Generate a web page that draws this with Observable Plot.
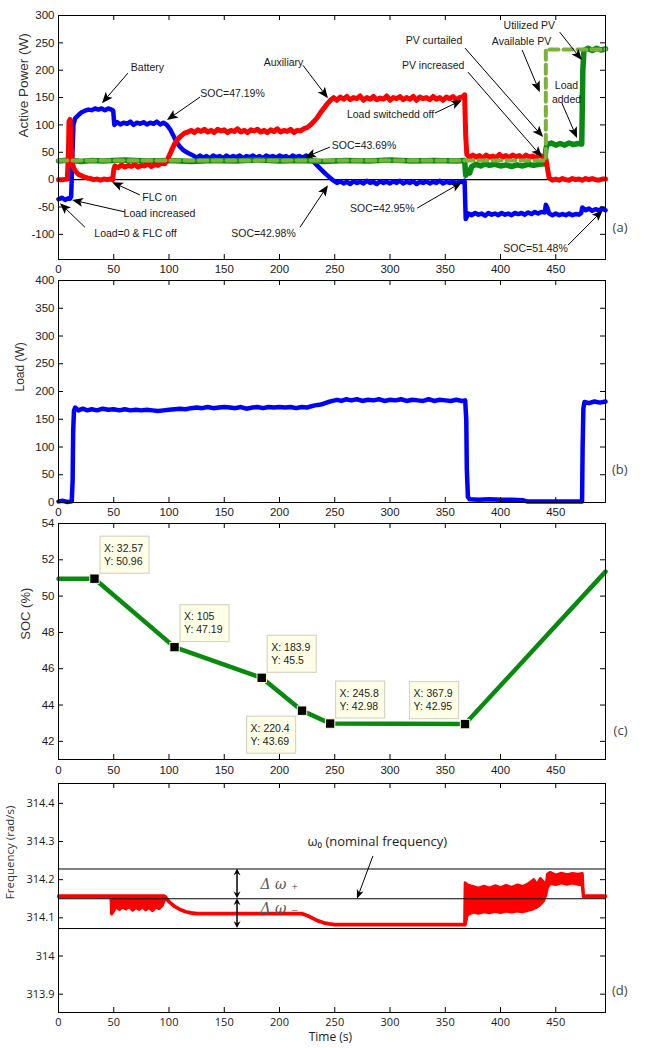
<!DOCTYPE html>
<html><head><meta charset="utf-8">
<script src="https://cdn.jsdelivr.net/npm/d3@7"></script>
<script src="https://cdn.jsdelivr.net/npm/@observablehq/plot@0.6"></script>
<style>
body{margin:0;background:#fff;}
#root{position:relative;width:646px;height:1048px;overflow:hidden;background:#fff;}
#root svg{position:absolute;left:0;}
</style></head><body><div id="root"></div>
<script>
// ---------- shared ticks ----------
const timeTicks = [0,50,100,150,200,250,300,350,400,450];
const powerTicks = [-100,-50,0,50,100,150,200,250,300];
const loadTicks = [0,50,100,150,200,250,300,350,400];
const socTicks = [42,44,46,48,50,52,54];
const freqTicks = [313.9,314,314.1,314.2,314.3,314.4];

// ---------- panel (a): active power [t, W] ----------
const batteryPts = [[0,-36],[3,-33],[6,-37],[9,-34],[10.5,-35],[11.5,-30],[12.5,40],[13.5,100],[15,112],[18,118],[21,123],[24,126],[27,128],[30,127],[33,130],[36,128],[39,130],[42,127],[45,130],[48,128],[49.5,126],[50.5,100],[53,105],[56,101],[59,104],[62,102],[65,106],[68,100],[71,104],[74,102],[77,105],[80,101],[83,104],[86,102],[89,106],[92,101],[95,104],[98,100],[101,92],[104,80],[107,68],[110,60],[113,54],[116,50],[119,47],[122,44],[125,40],[128,44],[131,40],[134,43],[137,39],[140,44],[143,41],[146,43],[149,39],[152,44],[155,40],[158,43],[161,41],[164,44],[167,39],[170,43],[173,41],[176,44],[179,40],[182,43],[185,39],[188,44],[191,41],[194,43],[197,40],[200,44],[203,41],[206,43],[209,39],[212,44],[215,41],[218,43],[221,40],[224,44],[227,41],[230,34],[234,26],[238,18],[242,10],[246,3],[249,-2],[252,-6],[255,-3],[258,-7],[261,-4],[264,-8],[267,-3],[270,-6],[273,-4],[276,-7],[279,-2],[282,-6],[285,-4],[288,-8],[291,-3],[294,-6],[297,-4],[300,-7],[303,-3],[306,-6],[309,-2],[312,-7],[315,-4],[318,-6],[321,-3],[324,-8],[327,-4],[330,-6],[333,-3],[336,-7],[339,-4],[342,-6],[345,-2],[348,-7],[351,-4],[354,-6],[357,-3],[360,-7],[363,-3],[366,-5],[367.5,-2],[368.5,-72],[371,-62],[374,-65],[377,-61],[380,-64],[383,-62],[386,-66],[389,-61],[392,-64],[395,-62],[398,-65],[401,-61],[404,-64],[407,-62],[410,-65],[413,-61],[416,-63],[419,-61],[422,-64],[425,-60],[428,-63],[431,-59],[434,-62],[437,-59],[440,-60],[441,-46],[442.5,-52],[444,-62],[447,-65],[450,-62],[453,-65],[456,-63],[459,-65],[462,-62],[465,-65],[468,-63],[471,-64],[473,-61],[474,-51],[477,-56],[480,-53],[483,-57],[486,-54],[489,-56],[492,-53],[495,-56]];
const auxiliaryPts = [[0,0],[4,0],[8,1],[9,50],[9.5,106],[10.5,110],[11.5,60],[12.5,30],[14,20],[16,14],[18,10],[20,8],[23,5],[26,3],[29,2],[32,0],[35,1],[38,-1],[41,1],[44,0],[47,1],[49,0],[50,18],[51,25],[54,22],[57,27],[60,23],[63,26],[66,24],[69,28],[72,23],[75,26],[78,25],[81,29],[84,24],[87,27],[90,26],[93,30],[96,29],[99,38],[102,52],[105,65],[108,74],[111,80],[114,85],[117,87],[120,90],[123,86],[126,91],[129,88],[132,92],[135,87],[138,90],[141,86],[144,92],[147,89],[150,91],[153,86],[156,90],[159,88],[162,93],[165,87],[168,90],[171,86],[174,91],[177,89],[180,92],[183,87],[186,90],[189,86],[192,91],[195,88],[198,93],[201,87],[204,90],[207,88],[210,92],[213,86],[216,90],[219,89],[222,93],[225,95],[228,100],[231,106],[234,113],[237,122],[240,130],[243,138],[246,145],[249,150],[252,145],[255,151],[258,147],[261,152],[264,146],[267,150],[270,148],[273,153],[276,145],[279,150],[282,147],[285,152],[288,146],[291,149],[294,147],[297,153],[300,145],[303,150],[306,148],[309,152],[312,146],[315,150],[318,147],[321,152],[324,145],[327,151],[330,148],[333,150],[336,146],[339,152],[342,147],[345,150],[348,145],[351,151],[354,148],[357,152],[360,146],[363,150],[366,151],[367.5,155],[368.5,80],[369.5,46],[372,40],[375,45],[378,41],[381,44],[384,39],[387,45],[390,41],[393,43],[396,40],[399,46],[402,41],[405,44],[408,40],[411,45],[414,42],[417,44],[420,39],[423,45],[426,41],[429,43],[432,40],[435,45],[438,42],[441,39],[442.5,20],[444,3],[447,-1],[450,1],[453,-1],[456,2],[459,0],[462,-1],[465,2],[468,0],[471,1],[474,-1],[477,2],[480,0],[483,2],[486,0],[489,-1],[492,1],[495,1]];
const utilizedPvPts = [[0,34],[10,36],[20,33],[30,35],[40,34],[60,36],[80,34],[100,35],[120,33],[140,35],[160,34],[180,36],[200,34],[220,35],[240,33],[260,35],[280,34],[300,36],[320,34],[340,35],[360,34],[367.5,35],[368.5,8],[370,18],[372,12],[374,24],[378,28],[382,25],[386,29],[390,26],[395,28],[400,25],[405,27],[410,24],[415,27],[420,25],[425,28],[430,26],[435,28],[440,29],[441,55],[442,64],[446,67],[450,63],[454,66],[458,63],[462,67],[466,64],[470,66],[473.5,65],[474.5,200],[475.5,236],[479,240],[483,236],[487,240],[491,237],[495,239]];
const availablePvPts = [[0,35],[441,35],[441,238],[495,238]];

const powerNotes = [
  {t:80.5,v:204.8,s:"Battery"},{t:157.5,v:157,s:"SOC=47.19%"},{t:203.6,v:214,s:"Auxiliary"},
  {t:91.4,v:-33,s:"FLC on"},{t:91.4,v:-62,s:"Load increased"},{t:69.7,v:-99,s:"Load=0 & FLC off"},
  {t:185.5,v:-99,s:"SOC=42.98%"},{t:276.5,v:62,s:"SOC=43.69%"},{t:300.5,v:119,s:"Load switchedd off"},
  {t:293,v:-53,s:"SOC=42.95%"},{t:431.7,v:-126,s:"SOC=51.48%"},{t:339.8,v:254,s:"PV curtailed"},
  {t:339,v:208,s:"PV increased"},{t:419,v:252,s:"Available PV"},{t:426,v:281.5,s:"Utilized PV"},
  {t:459.7,v:171.8,s:"Load"},{t:459.7,v:146,s:"added"}
];
const powerArrows = [
  {t1:63.3,v1:193.8,t2:39.8,v2:138.9},{t1:128.5,v1:150,t2:98.6,v2:108},{t1:221.7,v1:208,t2:244.3,v2:148},
  {t1:74.2,v1:-29,t2:48.9,v2:-5.5},{t1:60.6,v1:-60,t2:12.7,v2:-38},{t1:24.4,v1:-88,t2:1.8,v2:-44},
  {t1:219,v1:-88,t2:244.3,v2:-11},{t1:246,v1:58.5,t2:223.5,v2:40},{t1:341,v1:120.7,t2:365.6,v2:144.4},
  {t1:325,v1:-53,t2:365.6,v2:-5.5},{t1:461.5,v1:-120.7,t2:493,v2:-56.7},{t1:368.3,v1:239.5,t2:439,v2:76.8},
  {t1:371,v1:195.6,t2:438,v2:40.2},{t1:420,v1:236,t2:436,v2:159},{t1:454,v1:268.7,t2:474,v2:217.6},
  {t1:456,v1:139,t2:469.7,v2:75}
];

// ---------- panel (b): load [t, W] ----------
const loadPts = [[0,2],[4,3],[8,1],[12,2],[12.8,40],[13.3,130],[14,165],[15,171],[18,166],[22,169],[26,166],[30,168],[35,166],[40,169],[45,167],[50,168],[55,166],[60,168],[65,166],[70,167],[75,166],[80,167],[85,166],[90,165],[95,166],[100,167],[105,168],[110,169],[115,168],[120,170],[125,171],[130,170],[135,172],[140,170],[145,171],[150,172],[155,171],[160,170],[165,172],[170,169],[175,171],[180,172],[185,170],[190,172],[195,171],[200,172],[205,171],[210,172],[215,170],[220,172],[225,171],[228,173],[232,175],[236,176],[240,178],[244,181],[248,183],[252,185],[256,183],[260,186],[265,184],[270,186],[275,183],[280,185],[285,184],[290,186],[295,183],[300,185],[305,184],[310,186],[315,183],[320,185],[325,184],[330,183],[335,186],[340,183],[345,185],[350,184],[355,183],[360,185],[365,183],[368,184],[369,150],[369.5,60],[370.5,10],[372,6],[380,5],[390,6],[400,5],[410,5],[420,4],[424,2],[430,2],[440,2],[450,2],[460,2],[470,2],[473.8,2],[474.3,100],[475,170],[476,181],[480,179],[485,182],[490,180],[495,182]];

// ---------- panel (c): SOC [t, %] ----------
const socPts = [[0,50.96],[32.57,50.96],[105,47.19],[183.9,45.5],[220.4,43.69],[245.8,42.98],[367.9,42.95],[495,51.35]];
const socTips = [
  {t:32.57,v:50.96,pos:"ur"},{t:105,v:47.19,pos:"ur"},{t:183.9,v:45.5,pos:"ur"},
  {t:220.4,v:43.69,pos:"dl"},{t:245.8,v:42.98,pos:"ur"},{t:367.9,v:42.95,pos:"ul"}
];

// ---------- panel (d): frequency [t, low, high] ----------
const freqPts = [[0,314.155,314.158],[47.5,314.155,314.158],[48,314.11,314.158],[50,314.118,314.158],[52,314.13,314.158],[55,314.122,314.158],[58,314.128,314.158],[61,314.123,314.158],[64,314.13,314.158],[67,314.12,314.158],[70,314.127,314.158],[73,314.122,314.158],[76,314.129,314.158],[79,314.121,314.158],[82,314.127,314.158],[85,314.119,314.158],[88,314.128,314.158],[91,314.124,314.158],[94,314.133,314.158],[96,314.148,314.158],[97,314.151,314.155],[100,314.141,314.143],[105,314.129,314.131],[110,314.121,314.123],[115,314.115,314.117],[120,314.112,314.114],[125,314.11,314.112],[220,314.11,314.112],[225,314.105,314.107],[230,314.098,314.1],[235,314.091,314.093],[240,314.086,314.088],[245,314.083,314.085],[250,314.081,314.083],[367.5,314.081,314.083],[368,314.081,314.192],[370,314.108,314.186],[375,314.115,314.182],[380,314.112,314.178],[385,314.116,314.183],[390,314.113,314.178],[395,314.117,314.184],[400,314.114,314.179],[405,314.118,314.185],[410,314.115,314.18],[415,314.118,314.186],[420,314.116,314.182],[425,314.12,314.189],[430,314.124,314.2],[433,314.128,314.187],[436,314.135,314.203],[439,314.145,314.194],[441,314.16,314.178],[442.5,314.18,314.215],[445,314.19,314.219],[450,314.187,314.212],[455,314.192,314.217],[460,314.188,314.213],[465,314.191,314.216],[470,314.188,314.214],[474,314.186,314.216],[475,314.155,314.158],[495,314.155,314.158]];
const omegaLines = [314.228, 314.15, 314.072];
const omegaArrows = [{t1:162,v1:314.15,t2:162,v2:314.228},{t1:162,v1:314.15,t2:162,v2:314.072}];
const nominalArrow = [{t1:285,v1:314.261,t2:270.6,v2:314.149}];

// ---------- helpers ----------
const root = document.getElementById("root");
const ARIAL = "'Liberation Sans', Arial, sans-serif";
const SOFT = "'Open Sans', 'Noto Sans', sans-serif";
const toRows = pts => pts.map(([t, v]) => ({t, v}));

function arrowsMark(list, {head = 10, half = 4, both = false, width = 1} = {}) {
  return (index, scales) => {
    const g = d3.create("svg:g");
    const headPath = (tx, ty, ux, uy) => {
      const nx = -uy, ny = ux;
      return `M${tx},${ty}L${tx - head*ux + half*nx},${ty - head*uy + half*ny}L${tx - (head-2.5)*ux},${ty - (head-2.5)*uy}L${tx - head*ux - half*nx},${ty - head*uy - half*ny}Z`;
    };
    for (const a of list) {
      const x1 = scales.x(a.t1), y1 = scales.y(a.v1), x2 = scales.x(a.t2), y2 = scales.y(a.v2);
      const dx = x2 - x1, dy = y2 - y1, len = Math.hypot(dx, dy), ux = dx/len, uy = dy/len;
      const sx = both ? x1 + (head-3)*ux : x1, sy = both ? y1 + (head-3)*uy : y1;
      g.append("line").attr("x1", sx).attr("y1", sy)
        .attr("x2", x2 - (head-3)*ux).attr("y2", y2 - (head-3)*uy)
        .attr("stroke", "#000").attr("stroke-width", width);
      g.append("path").attr("d", headPath(x2, y2, ux, uy)).attr("fill", "#000");
      if (both) g.append("path").attr("d", headPath(x1, y1, -ux, -uy)).attr("fill", "#000");
    }
    return g.node();
  };
}

function tipsMark(list) {
  return (index, scales) => {
    const g = d3.create("svg:g");
    const w = 49, h = 37;
    for (const p of list) {
      const px = scales.x(p.t), py = scales.y(p.v);
      const left = p.pos.endsWith("r") ? px + 6 : px - 6 - w;
      const top = p.pos.startsWith("u") ? py - 5 - h : py + 6;
      g.append("rect").attr("x", left).attr("y", top).attr("width", w).attr("height", h)
        .attr("fill", "#ffffe8").attr("stroke", "#d6d6c4").attr("stroke-width", 1.2);
      const lines = ["X: " + p.t, "Y: " + p.v];
      lines.forEach((s, i) => {
        g.append("text").attr("x", left + 4).attr("y", top + 12 + i*13).attr("dy", "0.35em")
          .attr("text-anchor", "start").attr("font-size", 10.5).attr("fill", "#222")
          .attr("font-family", ARIAL).text(s);
      });
    }
    return g.node();
  };
}

function panel(cfg) {
  const innerW = 646 - 58 - 41;
  const innerH = cfg.height - cfg.mt - cfg.mb;
  const svg = Plot.plot({
    width: 646, height: cfg.height,
    marginTop: cfg.mt, marginBottom: cfg.mb, marginLeft: 58, marginRight: 41,
    x: {domain: [0, 495]},
    y: {domain: cfg.yDomain},
    style: {background: "transparent", fontFamily: cfg.font, fontSize: cfg.fontSize + "px", color: "#1a1a1a", overflow: "visible"},
    marks: [
      ...cfg.marks,
      Plot.ruleX(timeTicks, {insetTop: innerH - 5, stroke: "#000"}),
      Plot.ruleX(timeTicks, {insetBottom: innerH - 5, stroke: "#000"}),
      Plot.ruleY(cfg.yTicks, {insetRight: innerW - 5, stroke: "#000"}),
      Plot.ruleY(cfg.yTicks, {insetLeft: innerW - 5, stroke: "#000"}),
      Plot.frame({stroke: "#000", strokeWidth: 1}),
      Plot.axisX({ticks: timeTicks, tickSize: 0, tickPadding: cfg.xPad, label: null, tickFormat: d => String(d)}),
      Plot.axisY({ticks: cfg.yTicks, tickSize: 0, tickPadding: 4, label: null, tickFormat: d => String(d)}),
      Plot.text([cfg.letter], {frameAnchor: "right", dx: 22, y: cfg.letterY, text: d => d, fontFamily: SOFT, fontSize: 13, fill: "#444"}),
      Plot.text([cfg.ylabel], {frameAnchor: "left", dx: cfg.ylabelDx, y: cfg.ylabelY, text: d => d, rotate: -90, fontFamily: cfg.ylabelFont, fontSize: cfg.ylabelSize, fill: "#333"}),
      ...(cfg.extra || [])
    ]
  });
  svg.style.top = cfg.top + "px";
  root.appendChild(svg);
}

// ---------- (a) ----------
panel({
  top: 0, height: 286, mt: 15, mb: 27, yDomain: [-146, 300], yTicks: powerTicks,
  font: ARIAL, fontSize: 11.5, xPad: 5, letter: "(a)", letterY: -88,
  ylabel: "Active Power (W)", ylabelDx: -35, ylabelY: 77, ylabelFont: ARIAL, ylabelSize: 13.5,
  marks: [
    Plot.ruleY([0], {stroke: "#000", strokeWidth: 1.2}),
    Plot.line(toRows(batteryPts), {x: "t", y: "v", stroke: "#0000ff", strokeWidth: 4.5}),
    Plot.line(toRows(utilizedPvPts), {x: "t", y: "v", stroke: "#0a8a14", strokeWidth: 5.5}),
    Plot.line(toRows(auxiliaryPts), {x: "t", y: "v", stroke: "#ff0000", strokeWidth: 5}),
    Plot.line(toRows(availablePvPts), {x: "t", y: "v", stroke: "#7ab23a", strokeWidth: 4, strokeDasharray: "9,5"}),
    arrowsMark(powerArrows, {head: 11, half: 4.5}),
    Plot.text(powerNotes, {x: "t", y: "v", text: "s", fontSize: 10.5, fill: "#1a1a1a", fontFamily: ARIAL})
  ]
});

// ---------- (b) ----------
panel({
  top: 265, height: 257, mt: 15, mb: 20, yDomain: [0, 400], yTicks: loadTicks,
  font: ARIAL, fontSize: 11.5, xPad: 5, letter: "(b)", letterY: 59.5,
  ylabel: "Load (W)", ylabelDx: -38, ylabelY: 200, ylabelFont: ARIAL, ylabelSize: 12,
  marks: [
    Plot.line(toRows(loadPts), {x: "t", y: "v", stroke: "#0000ff", strokeWidth: 4.5})
  ]
});

// ---------- (c) ----------
panel({
  top: 508, height: 273, mt: 15, mb: 22, yDomain: [41, 54], yTicks: socTicks,
  font: ARIAL, fontSize: 11.5, xPad: 6, letter: "(c)", letterY: 42.6,
  ylabel: "SOC (%)", ylabelDx: -33, ylabelY: 47.6, ylabelFont: ARIAL, ylabelSize: 13,
  marks: [
    Plot.line(toRows(socPts), {x: "t", y: "v", stroke: "#078a0e", strokeWidth: 4.5}),
    tipsMark(socTips),
    Plot.dot(socTips, {x: "t", y: "v", symbol: "square", r: 5.3, fill: "#000", stroke: "#fffbd0", strokeWidth: 1})
  ]
});

// ---------- (d) ----------
const freqRows = freqPts.map(([t, lo, hi]) => ({t, lo, hi}));
panel({
  top: 768, height: 280, mt: 15, mb: 36, yDomain: [313.852, 314.452], yTicks: freqTicks,
  font: SOFT, fontSize: 11, xPad: 6, letter: "(d)", letterY: 313.908,
  ylabel: "Frequency (rad/s)", ylabelDx: -48, ylabelY: 314.149, ylabelFont: SOFT, ylabelSize: 11.5,
  marks: [
    Plot.areaY(freqRows, {x: "t", y1: "lo", y2: "hi", fill: "#ff0000"}),
    Plot.line(freqRows, {x: "t", y: "lo", stroke: "#ff0000", strokeWidth: 3}),
    Plot.line(freqRows, {x: "t", y: "hi", stroke: "#ff0000", strokeWidth: 3}),
    Plot.ruleY(omegaLines, {stroke: "#000", strokeWidth: 1}),
    arrowsMark(omegaArrows, {head: 7, half: 3.5, both: true, width: 1.5}),
    arrowsMark(nominalArrow, {head: 9, half: 3.5}),
    Plot.text(["ω₀ (nominal frequency)"], {x: 225.3, y: 314.298, text: d => d, textAnchor: "start", fontFamily: SOFT, fontSize: 13, fill: "#222"}),
    Plot.text(["Δ ω ₊", "Δ ω ₋"], {x: 182.8, y: [314.188, 314.124], text: d => d, textAnchor: "start", fontFamily: "'DejaVu Serif', serif", fontStyle: "italic", fontSize: 14, fill: "#555"})
  ],
  extra: [
    Plot.text(["Time (s)"], {frameAnchor: "bottom", x: 246, dy: 28, text: d => d, fontFamily: SOFT, fontSize: 12, fill: "#222"})
  ]
});
</script></body></html>
